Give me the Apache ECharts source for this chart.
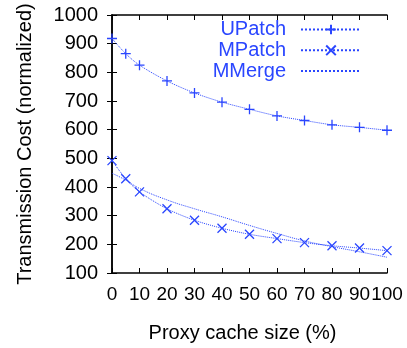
<!DOCTYPE html>
<html>
<head>
<meta charset="utf-8">
<script src="https://cdn.jsdelivr.net/npm/echarts@6/dist/echarts.min.js"></script>
<style>
  html, body { margin: 0; padding: 0; background: #fff; }
  #chart { width: 407px; height: 348px; }
</style>
</head>
<body>
<div id="chart"></div>
<script>
// Proxy cache size (%) sampled for each scheme
const cacheSizes = [0, 5, 10, 20, 30, 40, 50, 60, 70, 80, 90, 100];

// Normalized transmission cost per scheme
const uPatch = [918, 865, 825, 770, 728, 696, 671, 648, 632, 617, 608, 598];
const mPatch = [492, 429, 383, 324, 284, 256, 235, 220, 206, 195, 187, 178];
const mMerge = [448, 424, 395, 355, 324, 296, 266, 238, 212, 192, 174, 155];

const xTicks = [0, 10, 20, 30, 40, 50, 60, 70, 80, 90, 100];
const yTicks = [100, 200, 300, 400, 500, 600, 700, 800, 900, 1000];

const seriesNames = ['UPatch', 'MPatch', 'MMerge'];

const blue = '#2a46ff';
const FONT = 'Liberation Sans, Arial, sans-serif';

const pairs = (ys) => cacheSizes.map((x, i) => [x, ys[i]]);

const plusPath = 'path://M0,5L10,5M5,0L5,10';
const crossPath = 'path://M0,0L10,10M0,10L10,0';

const frameAxis = {
  axisLine: { show: true, lineStyle: { color: '#000', width: 1.5 } },
  axisTick: { show: true, inside: true, length: 5, lineStyle: { color: '#000', width: 1 } },
  splitLine: { show: false }
};

const chart = echarts.init(document.getElementById('chart'), null, { renderer: 'canvas' });

chart.setOption({
  backgroundColor: '#fff',
  animation: false,
  textStyle: { fontFamily: FONT },
  grid: { left: 112, right: 20, top: 15, bottom: 70, containLabel: false },
  legend: {
    data: seriesNames,
    right: 45,
    top: 19.5,
    padding: 0,
    orient: 'vertical',
    align: 'right',
    itemWidth: 60,
    itemHeight: 12,
    itemGap: 0.8,
    formatter: (name) => name + '\u2002',
    textStyle: { color: blue, fontSize: 20, lineHeight: 20 }
  },
  xAxis: [
    Object.assign({
      type: 'value', min: xTicks[0], max: xTicks[xTicks.length - 1], interval: 10,
      position: 'bottom',
      name: 'Proxy cache size (%)', nameLocation: 'middle', nameGap: 50,
      nameTextStyle: { fontSize: 20, color: '#000', padding: [0, 14, 0, 0] },
      axisLabel: {
        fontSize: 19, color: '#000', margin: 12,
        hideOverlap: false,
        formatter: (v) => String(v)
      }
    }, frameAxis),
    Object.assign({
      type: 'value', min: xTicks[0], max: xTicks[xTicks.length - 1], interval: 10,
      position: 'top', axisLabel: { show: false }
    }, frameAxis)
  ],
  yAxis: [
    Object.assign({
      type: 'value', min: yTicks[0], max: yTicks[yTicks.length - 1], interval: 100,
      position: 'left',
      name: 'Transmission Cost (normalized)', nameLocation: 'middle', nameGap: 77,
      nameTextStyle: { fontSize: 20, color: '#000' },
      axisLabel: {
        fontSize: 20, color: '#000', margin: 14,
        formatter: (v) => String(v)
      }
    }, frameAxis),
    Object.assign({
      type: 'value', min: yTicks[0], max: yTicks[yTicks.length - 1], interval: 100,
      position: 'right', axisLabel: { show: false }
    }, frameAxis)
  ],
  series: [
    {
      name: seriesNames[0], type: 'line', data: pairs(uPatch),
      smooth: 0.3,
      symbol: plusPath, symbolSize: 10, showSymbol: true,
      itemStyle: { color: 'none', borderColor: blue, borderWidth: 1.3 },
      lineStyle: { color: blue, width: 1, type: 'dotted' }
    },
    {
      name: seriesNames[1], type: 'line', data: pairs(mPatch),
      smooth: 0.3,
      symbol: crossPath, symbolSize: 9, showSymbol: true,
      itemStyle: { color: 'none', borderColor: blue, borderWidth: 1.3 },
      lineStyle: { color: blue, width: 1, type: 'dotted' }
    },
    {
      // fitted curve: line only, its marker is kept invisible
      name: seriesNames[2], type: 'line', data: pairs(mMerge),
      smooth: true, symbol: 'rect', showSymbol: false,
      itemStyle: { color: 'none', borderColor: 'none', borderWidth: 0 },
      lineStyle: { color: blue, width: 1, type: 'dotted' }
    }
  ]
});
</script>
</body>
</html>
